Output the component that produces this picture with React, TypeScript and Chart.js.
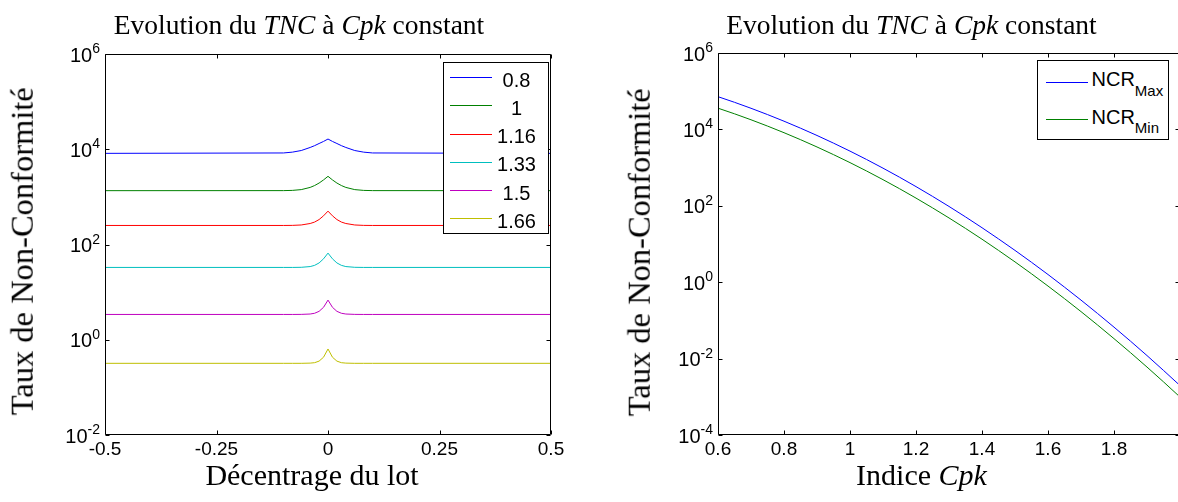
import React, { useEffect, useRef } from 'react';
import { Chart, registerables } from 'chart.js';

Chart.register(...registerables);

// ---------- Left chart: TNC vs décentrage at constant Cpk ----------
const offsets = [-0.5, -0.1, -0.08, -0.06, -0.04, -0.03, -0.02, -0.01, 0, 0.01, 0.02, 0.03, 0.04, 0.06, 0.08, 0.1, 0.5];
const cpkLegend = ['0.8', '1', '1.16', '1.33', '1.5', '1.66'];
const tnc080 = [8200, 8360, 8690, 9400, 10900, 11900, 13200, 14600, 16400, 14600, 13200, 11900, 10900, 9400, 8690, 8360, 8200];
const tnc100 = [1350, 1353, 1368, 1420, 1580, 1730, 1950, 2270, 2700, 2270, 1950, 1730, 1580, 1420, 1368, 1353, 1350];
const tnc116 = [251, 251, 252, 257, 276, 296, 334, 400, 502, 400, 334, 296, 276, 257, 252, 251, 251];
const tnc133 = [33, 33, 33, 33.2, 34.4, 36.5, 41, 50, 66, 50, 41, 36.5, 34.4, 33.2, 33, 33, 33];
const tnc150 = [3.4, 3.4, 3.4, 3.41, 3.47, 3.6, 3.95, 4.8, 6.8, 4.8, 3.95, 3.6, 3.47, 3.41, 3.4, 3.4, 3.4];
const tnc166 = [0.32, 0.32, 0.32, 0.32, 0.323, 0.33, 0.356, 0.43, 0.64, 0.43, 0.356, 0.33, 0.323, 0.32, 0.32, 0.32, 0.32];
const leftSeries = [tnc080, tnc100, tnc116, tnc133, tnc150, tnc166];
const leftColors = ['#0000FF', '#008000', '#FF0000', '#00BFBF', '#BF00BF', '#BFBF00'];
const leftXTicks = [-0.5, -0.25, 0, 0.25, 0.5];
const leftYTicks = [1e-2, 1e0, 1e2, 1e4, 1e6];

// ---------- Right chart: NCR vs Cpk ----------
const cpkValues = [0.6, 0.65, 0.7, 0.75, 0.8, 0.85, 0.9, 0.95, 1.0, 1.05, 1.1, 1.15, 1.2, 1.25, 1.3, 1.35, 1.4, 1.45, 1.5, 1.55, 1.6, 1.65, 1.7, 1.75, 1.8, 1.85, 1.9, 1.95, 2.0];
const ncrMax = [71860, 51180, 35730, 24450, 16400, 10770, 6934, 4372, 2700, 1633, 966.8, 560.6, 318.2, 176.8, 96.2, 51.2, 26.7, 13.6, 6.8, 3.32, 1.59, 0.742, 0.34, 0.152, 0.0666, 0.0286, 0.012, 0.0049, 0.00197];
const ncrMin = [35930, 25590, 17860, 12220, 8198, 5386, 3467, 2186, 1350, 816.4, 483.4, 280.3, 159.1, 88.4, 48.1, 25.6, 13.35, 6.8, 3.4, 1.66, 0.793, 0.371, 0.17, 0.076, 0.0333, 0.0143, 0.006, 0.00246, 0.000987];
const rightColors = ['#0000FF', '#008000'];
const rightXTicks = [0.6, 0.8, 1, 1.2, 1.4, 1.6, 1.8];
const rightYTicks = [1e-4, 1e-2, 1e0, 1e2, 1e4, 1e6];

const SANS = '"Liberation Sans", Arial, sans-serif';
const SERIF = '"Liberation Serif", "Times New Roman", serif';

const exponentOf = (v: number) => String(Math.round(Math.log10(v)));

// Draws the Matlab-style box, inward ticks on all sides and 10^n tick labels.
const framePlugin = {
  id: 'matlabFrame',
  afterDraw(chart: any) {
    const { ctx, chartArea: a, scales } = chart;
    const L = Math.round(a.left) + 0.5;
    const R = Math.round(a.right) - 0.5;
    const T = Math.round(a.top) + 0.5;
    const B = Math.round(a.bottom) - 0.5;
    const tl = 4;
    ctx.save();
    ctx.strokeStyle = '#000';
    ctx.lineWidth = 1;
    ctx.beginPath();
    ctx.rect(L, T, R - L, B - T);
    scales.x.ticks.forEach((t: any) => {
      const px = Math.round(scales.x.getPixelForValue(t.value)) + 0.5;
      ctx.moveTo(px, B); ctx.lineTo(px, B - tl);
      ctx.moveTo(px, T); ctx.lineTo(px, T + tl);
    });
    scales.y.ticks.forEach((t: any) => {
      const py = Math.round(scales.y.getPixelForValue(t.value)) + 0.5;
      ctx.moveTo(L, py); ctx.lineTo(L + tl, py);
      ctx.moveTo(R, py); ctx.lineTo(R - tl, py);
    });
    ctx.stroke();

    // y tick labels: "10" with raised exponent
    ctx.fillStyle = '#000';
    ctx.textBaseline = 'alphabetic';
    ctx.textAlign = 'left';
    const xRight = a.left - 5;
    scales.y.ticks.forEach((t: any) => {
      const py = scales.y.getPixelForValue(t.value);
      const exp = exponentOf(t.value);
      ctx.font = `14px ${SANS}`;
      const ew = ctx.measureText(exp).width;
      ctx.font = `20px ${SANS}`;
      const bw = ctx.measureText('10').width;
      ctx.fillText('10', xRight - ew - bw, py + 7.5);
      ctx.font = `14px ${SANS}`;
      ctx.fillText(exp, xRight - ew, py - 1);
    });
    ctx.restore();
  },
};

function makeConfig(opts: {
  datasets: any[];
  xMin: number; xMax: number; xTicks: number[];
  yMin: number; yMax: number; yTicks: number[];
  yWidth: number; padTop: number; padRight: number; xHeight: number;
}) {
  return {
    type: 'line' as const,
    data: { datasets: opts.datasets },
    plugins: [framePlugin],
    options: {
      responsive: false,
      animation: false as const,
      events: [] as any[],
      layout: { padding: { top: opts.padTop, right: opts.padRight, bottom: 0, left: 0 } },
      plugins: { legend: { display: false }, tooltip: { enabled: false }, title: { display: false } },
      elements: { point: { radius: 0 }, line: { borderWidth: 1 } },
      scales: {
        x: {
          type: 'linear' as const,
          min: opts.xMin,
          max: opts.xMax,
          grid: { display: false, drawTicks: false },
          border: { display: false },
          afterBuildTicks: (s: any) => { s.ticks = opts.xTicks.map((v) => ({ value: v })); },
          afterFit: (s: any) => { s.height = opts.xHeight; },
          ticks: {
            padding: 3,
            color: '#000',
            autoSkip: false,
            maxRotation: 0,
            font: { family: SANS, size: 19 },
            callback: (v: any) => String(v),
          },
        },
        y: {
          type: 'logarithmic' as const,
          min: opts.yMin,
          max: opts.yMax,
          grid: { display: false, drawTicks: false },
          border: { display: false },
          afterBuildTicks: (s: any) => { s.ticks = opts.yTicks.map((v) => ({ value: v })); },
          afterFit: (s: any) => { s.width = opts.yWidth; },
          ticks: {
            display: false,
            autoSkip: false,
            callback: (v: any) => '10^' + exponentOf(Number(v)),
          },
        },
      },
    },
  };
}

function ChartCanvas({ left, width, build }: { left: number; width: number; build: () => any }) {
  const ref = useRef<HTMLCanvasElement>(null);
  useEffect(() => {
    const chart = new Chart(ref.current as HTMLCanvasElement, build());
    return () => chart.destroy();
  }, []);
  return (
    <canvas
      ref={ref}
      width={width}
      height={502}
      style={{ position: 'absolute', left, top: 0, width, height: 502 }}
    />
  );
}

function HText({ cx, baseline, size, family, children }: any) {
  return (
    <div
      style={{
        position: 'absolute', left: cx - 400, width: 800, top: baseline - 0.8375 * size,
        fontSize: size, lineHeight: `${size}px`, fontFamily: family, textAlign: 'center',
        whiteSpace: 'nowrap', color: '#000',
      }}
    >
      {children}
    </div>
  );
}

function VText({ baselineX, cy, size, children }: any) {
  const cx = baselineX - 0.3375 * size;
  return (
    <div
      style={{
        position: 'absolute', left: cx - 300, width: 600, top: cy - size / 2, height: size,
        fontSize: size, lineHeight: `${size}px`, fontFamily: SERIF, textAlign: 'center',
        whiteSpace: 'nowrap', transform: 'rotate(-90deg)', color: '#000',
      }}
    >
      {children}
    </div>
  );
}

const Title = () => (
  <>Evolution du <i>TNC</i> à <i>Cpk</i> constant</>
);

export default function App() {
  const buildLeft = () =>
    makeConfig({
      datasets: leftSeries.map((vals, i) => ({
        label: cpkLegend[i],
        data: offsets.map((x, j) => ({ x, y: vals[j] })),
        borderColor: leftColors[i],
        backgroundColor: leftColors[i],
        borderWidth: 1,
        tension: 0,
      })),
      xMin: -0.5, xMax: 0.5, xTicks: leftXTicks,
      yMin: 1e-2, yMax: 1e6, yTicks: leftYTicks,
      yWidth: 105, padTop: 54, padRight: 38, xHeight: 67,
    });

  const buildRight = () =>
    makeConfig({
      datasets: [
        { label: 'NCR Max', data: cpkValues.map((x, j) => ({ x, y: ncrMax[j] })), borderColor: rightColors[0], backgroundColor: rightColors[0], borderWidth: 1, cubicInterpolationMode: 'monotone' },
        { label: 'NCR Min', data: cpkValues.map((x, j) => ({ x, y: ncrMin[j] })), borderColor: rightColors[1], backgroundColor: rightColors[1], borderWidth: 1, cubicInterpolationMode: 'monotone' },
      ],
      xMin: 0.6, xMax: 2.0, xTicks: rightXTicks,
      yMin: 1e-4, yMax: 1e6, yTicks: rightYTicks,
      yWidth: 129, padTop: 53, padRight: 2, xHeight: 67,
    });

  const legendRowY = (i: number) => 77 + i * 28.25;

  return (
    <div style={{ position: 'fixed', left: 0, top: 0, width: 1178, height: 502, overflow: 'hidden', background: '#fff' }}>
      <ChartCanvas left={0} width={589} build={buildLeft} />
      <ChartCanvas left={589} width={593} build={buildRight} />

      {/* Titles */}
      <HText cx={299} baseline={34} size={27.5} family={SERIF}><Title /></HText>
      <HText cx={911.5} baseline={34} size={27.5} family={SERIF}><Title /></HText>

      {/* X labels */}
      <HText cx={312} baseline={485} size={30} family={SERIF}>Décentrage du lot</HText>
      <HText cx={921.5} baseline={485} size={30} family={SERIF}>Indice <i>Cpk</i></HText>

      {/* Y labels */}
      <VText baselineX={33} cy={251.5} size={32.5}>Taux de Non-Conformité</VText>
      <VText baselineX={650} cy={252} size={32.5}>Taux de Non-Conformité</VText>

      {/* Left legend */}
      <div style={{ position: 'absolute', left: 443, top: 62, width: 106, height: 172, boxSizing: 'border-box', border: '1px solid #000', background: '#fff' }} />
      {cpkLegend.map((lab, i) => (
        <React.Fragment key={lab}>
          <div style={{ position: 'absolute', left: 450, top: Math.round(legendRowY(i)), width: 42, height: 1, background: leftColors[i] }} />
          <div
            style={{
              position: 'absolute', left: 516.5 - 40, width: 80, textAlign: 'center',
              top: legendRowY(i) + 9.5 - 0.8465 * 20, fontSize: 20, lineHeight: '20px', fontFamily: SANS, color: '#000',
            }}
          >
            {lab}
          </div>
        </React.Fragment>
      ))}

      {/* Right legend */}
      <div style={{ position: 'absolute', left: 1037, top: 60, width: 132, height: 80, boxSizing: 'border-box', border: '1px solid #000', background: '#fff' }} />
      {[['Max', 81.7], ['Min', 119]].map(([sub, y], i) => (
        <React.Fragment key={String(sub)}>
          <div style={{ position: 'absolute', left: 1046, top: Math.round(Number(y)), width: 42, height: 1, background: rightColors[i] }} />
          <div
            style={{
              position: 'absolute', left: 1091.5, top: Number(y) + 4.5 - 0.8465 * 20,
              fontSize: 20, lineHeight: '20px', fontFamily: SANS, whiteSpace: 'nowrap', color: '#000',
            }}
          >
            NCR<span style={{ fontSize: 15, position: 'relative', top: 9.5 }}>{sub}</span>
          </div>
        </React.Fragment>
      ))}
    </div>
  );
}
